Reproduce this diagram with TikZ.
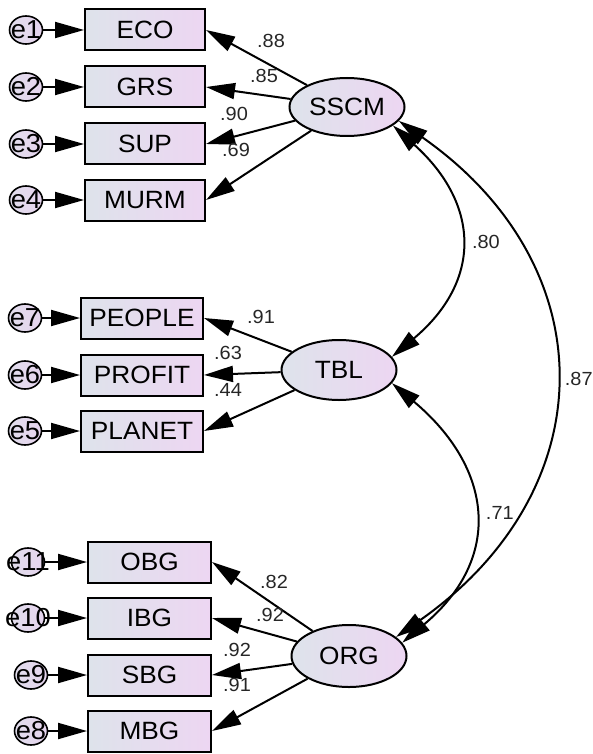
\documentclass[tikz,border=0pt]{standalone}
\usepackage{fontspec}
\setmainfont[FakeStretch=1.05]{Liberation Sans}
\usetikzlibrary{arrows.meta,shapes.geometric}
\definecolor{gL}{HTML}{DEE3EB}
\definecolor{gR}{HTML}{EDD6F2}
\definecolor{cF}{HTML}{E6D4EE}
\tikzset{
  obs/.style={draw, line width=2pt, left color=gL, right color=gR, minimum width=120pt, minimum height=41pt, inner sep=0pt, font=\fontsize{25}{25}\selectfont},
  lat/.style={draw, line width=2pt, ellipse, left color=gL, right color=gR, minimum width=115pt, minimum height=60pt, inner sep=0pt, font=\fontsize{25}{25}\selectfont},
  err/.style={draw, line width=1.6pt, ellipse, left color=gL!60!cF, right color=cF, minimum width=33pt, minimum height=28pt, inner sep=0pt},
  errlab/.style={font=\fontsize{26}{26}\selectfont, inner sep=0pt},
  arr/.style={line width=2pt, -{Triangle[length=29pt,width=16pt]}},
  darr/.style={line width=2pt, {Triangle[length=29pt,width=16pt]}-{Triangle[length=29pt,width=16pt]}},
  coef/.style={font=\fontsize{19}{19}\selectfont, inner sep=0pt, text=black!85}
}
\begin{document}
\begin{tikzpicture}[x=1pt,y=1pt]
\useasboundingbox (0,0) rectangle (592,-754);
% observed
\node[obs] (eco) at (145,-30) {ECO};
\node[obs] (grs) at (145,-87) {GRS};
\node[obs] (sup) at (145,-144) {SUP};
\node[obs] (murm) at (145,-200) {MURM};
\node[obs, minimum width=122pt] (people) at (142,-318) {PEOPLE};
\node[obs, minimum width=122pt] (profit) at (142,-375) {PROFIT};
\node[obs, minimum width=122pt] (planet) at (142,-431) {PLANET};
\node[obs, minimum width=123pt] (obg) at (149.5,-562) {OBG};
\node[obs, minimum width=123pt] (ibg) at (149.5,-618) {IBG};
\node[obs, minimum width=123pt] (sbg) at (149.5,-675) {SBG};
\node[obs, minimum width=123pt] (mbg) at (149.5,-731) {MBG};
% latent
\node[lat, minimum height=58pt] (sscm) at (347,-107) {SSCM};
\node[lat] (tbl) at (339,-370) {TBL};
\node[lat, minimum height=62pt] (org) at (349,-656) {ORG};
% errors
\foreach \n/\lab/\x/\y in {c1/e1/26/30, c2/e2/26/87, c3/e3/26/144, c4/e4/26/200,
  c7/e7/25/318, c6/e6/25/375, c5/e5/25/431,
  c11/e11/28/562, c10/e10/28/618, c9/e9/31/675, c8/e8/31/731}{
  \node[err] (\n) at (\x,-\y) {};
  \node[errlab] at (\n) {\lab};
}
\foreach \c/\b in {c1/eco,c2/grs,c3/sup,c4/murm,c7/people,c6/profit,c5/planet,c11/obg,c10/ibg,c9/sbg,c8/mbg}{
  \draw[arr] (\c) -- (\b);
}
% loadings
\foreach \b in {eco,grs,sup,murm}{\draw[arr] (sscm) -- (\b.east);}
\foreach \b in {people,profit,planet}{\draw[arr] (tbl) -- (\b.east);}
\foreach \b in {obg,ibg,sbg,mbg}{\draw[arr] (org) -- (\b.east);}
% coefficients
\node[coef] at (271,-41) {.88};
\node[coef] at (264,-76) {.85};
\node[coef] at (234,-114) {.90};
\node[coef] at (236,-150) {.69};
\node[coef] at (261,-317) {.91};
\node[coef] at (228,-353) {.63};
\node[coef] at (228,-390) {.44};
\node[coef] at (274,-582) {.82};
\node[coef] at (270,-615) {.92};
\node[coef] at (237,-650) {.92};
\node[coef] at (237,-685) {.91};
% covariances
\draw[darr] (sscm.-22) to[out=-42, in=40, looseness=1.3] node[coef, right=12pt, pos=0.5] {.80} (tbl.14);
\draw[darr] (tbl.-14) to[out=-40, in=40, looseness=1.3] node[coef, right=12pt, pos=0.5] {.71} (org.14);
\draw[darr] (sscm.-15) to[out=-35, in=35, looseness=1.26] node[coef, right=10pt, pos=0.5] {.87} (org.22);
\end{tikzpicture}
\end{document}
